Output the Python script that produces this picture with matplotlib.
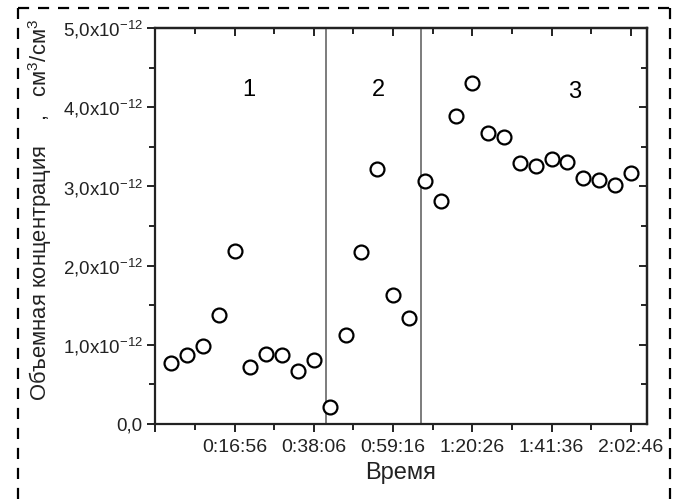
import matplotlib
matplotlib.use('Agg')
import matplotlib.pyplot as plt
from matplotlib.lines import Line2D
from matplotlib.ticker import FixedLocator, MultipleLocator, FuncFormatter

plt.rcParams['font.family'] = ['Liberation Sans', 'DejaVu Sans']
plt.rcParams['mathtext.default'] = 'regular'

# measurement times (h:mm:ss) and volume concentration, x1e-12 cm3/cm3
times = ['0:00:00', '0:04:14', '0:08:28', '0:12:42', '0:16:56', '0:21:10',
         '0:25:24', '0:29:38', '0:33:52', '0:38:06', '0:42:20', '0:46:34',
         '0:50:48', '0:55:02', '0:59:16', '1:03:30', '1:07:44', '1:11:58',
         '1:16:12', '1:20:26', '1:24:40', '1:28:54', '1:33:08', '1:37:22',
         '1:41:36', '1:45:50', '1:50:04', '1:54:18', '1:58:32', '2:02:46']
conc = [0.77, 0.87, 0.99, 1.38, 2.19, 0.72, 0.88, 0.87, 0.67, 0.81,
        0.21, 1.13, 2.17, 3.22, 1.63, 1.34,
        3.07, 2.82, 3.89, 4.31, 3.68, 3.62, 3.29, 3.26, 3.34, 3.31,
        3.11, 3.08, 3.02, 3.17]

# stage boundaries and labels
bounds = ['0:41:17', '1:06:40']
stages = ['1', '2', '3']
stage_x = ['0:20:38', '0:55:15', '1:47:51']
stage_y = [4.22, 4.22, 4.19]

x_ticks = ['-0:04:14', '0:16:56', '0:38:06', '0:59:16', '1:20:26', '1:41:36', '2:02:46']
x_range = ['-0:04:14', '2:07:00']


def to_sec(s):
  sign = -1 if s.startswith('-') else 1
  h, m, sec = s.lstrip('-').split(':')
  return sign * (int(h) * 3600 + int(m) * 60 + int(sec))


def fmt_time(v, pos=None):
  if v < 0:
    return ''
  v = int(round(v))
  return '%d:%02d:%02d' % (v // 3600, (v % 3600) // 60, v % 60)


def fmt_conc(v, pos=None):
  if abs(v) < 1e-9:
    return '0,0'
  return ('%.1f' % v).replace('.', ',') + 'x10$^{-12}$'


x = [to_sec(t) for t in times]
xt = [to_sec(t) for t in x_ticks]
minor = [(a + b) / 2 for a, b in zip(xt[:-1], xt[1:])]

fig = plt.figure(figsize=(6.79, 4.99), dpi=100)
ax = fig.add_axes([0.2287, 0.1503, 0.7237, 0.7936])

for b in bounds:
  ax.axvline(to_sec(b), color='#666666', lw=1.2, zorder=1)

ax.plot(x, conc, 'o', ms=10, mfc='white', mec='black', mew=1.6, zorder=3)

for s, sx, sy in zip(stages, stage_x, stage_y):
  ax.text(to_sec(sx), sy, s, fontsize=17, ha='center', va='center')

ax.set_xlim(to_sec(x_range[0]), to_sec(x_range[1]))
ax.set_ylim(0, 5)
ax.xaxis.set_major_locator(FixedLocator(xt))
ax.xaxis.set_minor_locator(FixedLocator(minor))
ax.xaxis.set_major_formatter(FuncFormatter(fmt_time))
ax.yaxis.set_major_locator(MultipleLocator(1))
ax.yaxis.set_minor_locator(MultipleLocator(0.5))
ax.yaxis.set_major_formatter(FuncFormatter(fmt_conc))
ax.tick_params(which='major', length=6, width=1.4, direction='out', colors='#222222')
ax.tick_params(which='minor', length=4, width=1.4, direction='out', colors='#222222')
ax.tick_params(axis='x', pad=5, labelsize=14)
ax.tick_params(axis='y', pad=3, labelsize=13.5)
for sp in ax.spines.values():
  sp.set_linewidth(1.6)
  sp.set_color('#222222')

# mirrored ticks pointing inward on top and right
top = ax.secondary_xaxis('top')
top.xaxis.set_major_locator(FixedLocator(xt))
top.xaxis.set_minor_locator(FixedLocator(minor))
top.tick_params(which='major', length=6, width=1.4, direction='in', labeltop=False, colors='#222222')
top.tick_params(which='minor', length=4, width=1.4, direction='in', colors='#222222')
right = ax.secondary_yaxis('right')
right.yaxis.set_major_locator(MultipleLocator(1))
right.yaxis.set_minor_locator(MultipleLocator(0.5))
right.tick_params(which='major', length=6, width=1.4, direction='in', labelright=False, colors='#222222')
right.tick_params(which='minor', length=4, width=1.4, direction='in', colors='#222222')
top.spines['top'].set_linewidth(1.6)
right.spines['right'].set_linewidth(1.6)

ax.set_xlabel('Время', fontsize=17, labelpad=4, color='#222222')
fig.text(40 / 679, 1 - 210 / 499, 'Объемная концентрация    ,   см$^3$/см$^3$',
         rotation=90, ha='center', va='center', fontsize=15.8, color='#222222')

# dashed frame around the figure (open at the bottom)
dash = dict(color='black', lw=1.6, ls=(0, (5, 4)), transform=fig.transFigure)
l, r, t = 18 / 679, 670 / 679, 1 - 8 / 499
fig.add_artist(Line2D([l, l], [0, t], **dash))
fig.add_artist(Line2D([l, r], [t, t], **dash))
fig.add_artist(Line2D([r, r], [t, 0], **dash))

fig.savefig('out.png', dpi=100)
